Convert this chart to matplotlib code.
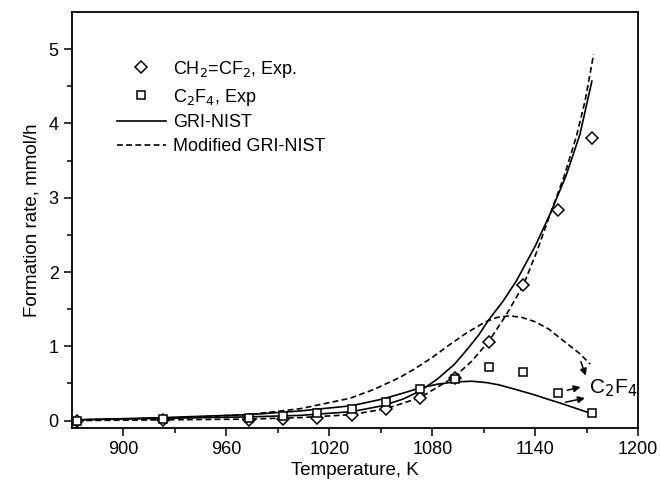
import numpy as np
import matplotlib.pyplot as plt

plt.rcParams['font.family'] = ['Liberation Sans', 'DejaVu Sans']

## experimental points
T_exp = [873, 923, 973, 993, 1013, 1033, 1053, 1073, 1093, 1113, 1133, 1153, 1173]
ch2cf2_exp = [0.0, 0.01, 0.01, 0.02, 0.04, 0.08, 0.15, 0.31, 0.57, 1.06, 1.82, 2.84, 3.81]
c2f4_exp = [0.0, 0.02, 0.03, 0.06, 0.10, 0.16, 0.25, 0.42, 0.56, 0.72, 0.66, 0.37, 0.10]

## GRI-NIST model
T_gri_a = [873, 923, 973, 1003, 1033, 1051, 1063, 1073, 1083, 1093, 1100, 1107, 1113, 1121, 1129, 1140, 1149, 1158, 1166, 1173]
gri_ch2cf2 = [0.01, 0.03, 0.05, 0.07, 0.12, 0.2, 0.29, 0.4, 0.56, 0.76, 0.95, 1.15, 1.36, 1.6, 1.88, 2.35, 2.8, 3.3, 3.85, 4.57]
T_gri_b = [873, 923, 973, 1003, 1033, 1051, 1063, 1073, 1083, 1093, 1103, 1112, 1119, 1130, 1139, 1147, 1154, 1163, 1172]
gri_c2f4 = [0.01, 0.04, 0.08, 0.13, 0.2, 0.29, 0.37, 0.44, 0.49, 0.52, 0.53, 0.51, 0.48, 0.41, 0.35, 0.29, 0.24, 0.17, 0.10]

## Modified GRI-NIST model
T_mod_a = [873, 923, 973, 1003, 1033, 1053, 1073, 1093, 1103, 1113, 1123, 1133, 1141, 1149, 1157, 1164, 1169, 1174]
mod_ch2cf2 = [0.0, 0.01, 0.02, 0.04, 0.08, 0.16, 0.31, 0.59, 0.8, 1.07, 1.42, 1.82, 2.28, 2.8, 3.3, 3.83, 4.3, 4.93]
T_mod_b = [873, 923, 973, 1003, 1032, 1046, 1061, 1070, 1080, 1090, 1100, 1111, 1118, 1125, 1132, 1140, 1148, 1155, 1160, 1166, 1172]
mod_c2f4 = [0.01, 0.03, 0.08, 0.16, 0.3, 0.42, 0.58, 0.7, 0.85, 1.02, 1.18, 1.33, 1.39, 1.41, 1.39, 1.33, 1.23, 1.1, 1.01, 0.9, 0.76]

fig = plt.figure(figsize=(6.6, 4.9), dpi=100)
ax = fig.add_axes([0.109, 0.1265, 0.858, 0.849])

dash = (0, (3.5, 2))
ax.plot(T_exp, ch2cf2_exp, linestyle='none', marker='D', ms=6, mfc='white', mec='black', mew=1.1,
        label='CH$_2$=CF$_2$, Exp.', zorder=3)
ax.plot(T_exp, c2f4_exp, linestyle='none', marker='s', ms=6, mfc='white', mec='black', mew=1.1,
        label='C$_2$F$_4$, Exp', zorder=3)
ax.plot(T_gri_a, gri_ch2cf2, '-', color='black', lw=1.2, label='GRI-NIST')
ax.plot(T_gri_b, gri_c2f4, '-', color='black', lw=1.2)
ax.plot(T_mod_a, mod_ch2cf2, color='black', lw=1.2, linestyle=dash, label='Modified GRI-NIST')
ax.plot(T_mod_b, mod_c2f4, color='black', lw=1.2, linestyle=dash)

## C2F4 label with arrows
ax.text(1171.5, 0.44, 'C$_2$F$_4$', fontsize=15, va='center', ha='left')
arr = dict(arrowstyle='-|>', color='black', lw=1.1, mutation_scale=10)
ax.annotate('', xy=(1168, 0.46), xytext=(1157, 0.40), arrowprops=arr)
ax.annotate('', xy=(1170.5, 0.31), xytext=(1156, 0.24), arrowprops=arr)
ax.annotate('', xy=(1170, 0.57), xytext=(1166, 0.83), arrowprops=arr)

ax.set_xlim(870, 1200)
ax.set_ylim(-0.1, 5.5)
ax.set_xticks([900, 960, 1020, 1080, 1140, 1200])
ax.set_xticks(np.arange(930, 1200, 60), minor=True)
ax.set_yticks([0, 1, 2, 3, 4, 5])
ax.set_yticks([0.5, 1.5, 2.5, 3.5, 4.5], minor=True)
ax.tick_params(which='major', direction='out', length=6, width=1.1, labelsize=13)
ax.tick_params(which='minor', direction='out', length=3.5, width=1.1)
for s in ax.spines.values():
    s.set_linewidth(1.3)

ax.set_xlabel('Temperature, K', fontsize=13.5, labelpad=3)
ax.set_ylabel('Formation rate, mmol/h', fontsize=13.5, labelpad=6)

ax.legend(loc='upper left', bbox_to_anchor=(0.067, 0.905), frameon=False, fontsize=13,
          handlelength=2.7, handletextpad=0.4, labelspacing=0.38, borderaxespad=0)

fig.savefig('out.png', dpi=100)
